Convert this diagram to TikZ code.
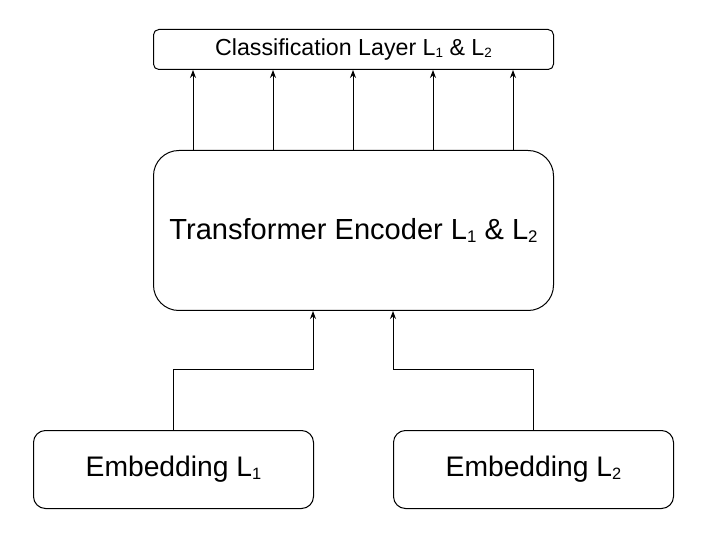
\documentclass[tikz,border=0pt]{standalone}
\usepackage{fontspec}
\setmainfont{Liberation Sans}
\usepackage{xcolor}
\usepackage{tikz}
\usetikzlibrary{arrows.meta}

\newcommand{\lsub}[1]{\raisebox{-0.15ex}{\fontsize{0.58em}{1em}\selectfont #1}}

\begin{document}
\begin{tikzpicture}[x=0.75pt,y=-0.75pt]
        \tikzset{box style/.style={draw, line width=0.75pt, rectangle, fill=white, text=black, inner sep=0pt}}
        \tikzset{line style/.style={line width=0.75pt, -{Stealth[length=6pt,width=4.5pt]}}}

        \useasboundingbox (0,0) rectangle (720,548);

        \node[box style, rounded corners=4pt, anchor=north west, minimum width=300pt, minimum height=30pt, font=\fontsize{17.4}{20}\selectfont] (cls layer) at (153,29) {Classification Layer L\lsub{1} \& L\lsub{2}};
        \node[box style, rounded corners=19pt, anchor=north west, minimum width=300pt, minimum height=120pt, font=\fontsize{21.8}{25}\selectfont] (encoder) at (153,150) {Transformer Encoder L\lsub{1} \& L\lsub{2}};
        \node[box style, rounded corners=9pt, anchor=north west, minimum width=210pt, minimum height=58.5pt, font=\fontsize{21.2}{25}\selectfont] (emb one) at (33,430) {Embedding L\lsub{1}};
        \node[box style, rounded corners=9pt, anchor=north west, minimum width=210pt, minimum height=58.5pt, font=\fontsize{21.2}{25}\selectfont] (emb two) at (393,430) {Embedding L\lsub{2}};

        \foreach \x in {193,273,353,433,513}
            \draw[line style] (encoder.north -| \x,0) -- (cls layer.south -| \x,0);

        \coordinate (join one) at (313,370);
        \coordinate (join two) at (393,370);
        \draw[line style] (emb one.north) |- (join one) -- (encoder.south -| join one);
        \draw[line style] (emb two.north) |- (join two) -- (encoder.south -| join two);
    \end{tikzpicture}
\end{document}
